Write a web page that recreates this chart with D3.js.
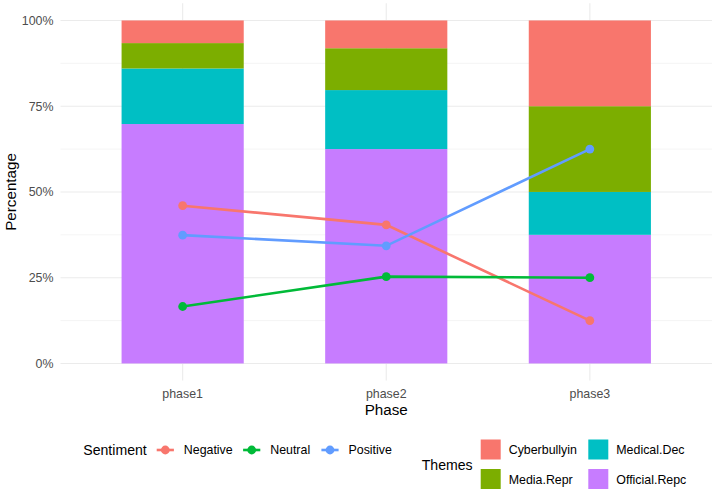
<!DOCTYPE html>
<html>
<head>
<meta charset="utf-8">
<script src="https://cdn.jsdelivr.net/npm/d3@7"></script>
<style>
  body { margin: 0; background: #fff; }
  text { font-family: "Liberation Sans", Arial, sans-serif; }
</style>
</head>
<body>
<svg id="chart" width="715" height="492"></svg>
<script>
// categories
var phases = ["phase1", "phase2", "phase3"];
var themes = ["Cyberbullyin", "Media.Repr", "Medical.Dec", "Official.Repc"];
var sentiments = ["Negative", "Neutral", "Positive"];

// theme shares per phase (percent), stacked bottom = Official.Repc
var cyberShare = [6.6, 8.1, 25.0];
var mediaShare = [7.4, 12.2, 25.0];
var medicalShare = [16.2, 17.2, 12.5];
var officialShare = [69.8, 62.5, 37.5];

// sentiment shares per phase (percent)
var negativeShare = [46.0, 40.4, 12.5];
var neutralShare = [16.6, 25.3, 25.0];
var positiveShare = [37.4, 34.3, 62.5];

var yTicks = [0, 0.25, 0.5, 0.75, 1];
var yMinor = [0.125, 0.375, 0.625, 0.875];

var themeColors = ["#F8766D", "#7CAE00", "#00BFC4", "#C77CFF"];
var sentColors = ["#F8766D", "#00BA38", "#619CFF"];

var svg = d3.select("#chart");

// panel geometry
var panel = { left: 60.5, right: 712, top: 3.3, bottom: 380.6 };

var x = d3.scalePoint().domain(phases).range([panel.left, panel.right]).padding(0.6);
var step = x.step();
var barW = step * 0.6;

var y = d3.scaleLinear().domain([-0.05, 1.05]).range([panel.bottom, panel.top]);

// grid
var grid = svg.append("g");
grid.selectAll(".minor").data(yMinor).enter().append("line")
  .attr("x1", panel.left).attr("x2", panel.right)
  .attr("y1", function (d) { return y(d); }).attr("y2", function (d) { return y(d); })
  .attr("stroke", "#EBEBEB").attr("stroke-width", 0.55);
grid.selectAll(".major").data(yTicks).enter().append("line")
  .attr("x1", panel.left).attr("x2", panel.right)
  .attr("y1", function (d) { return y(d); }).attr("y2", function (d) { return y(d); })
  .attr("stroke", "#EBEBEB").attr("stroke-width", 1.1);
grid.selectAll(".vmajor").data(phases).enter().append("line")
  .attr("x1", function (d) { return x(d); }).attr("x2", function (d) { return x(d); })
  .attr("y1", panel.top).attr("y2", panel.bottom)
  .attr("stroke", "#EBEBEB").attr("stroke-width", 1.1);

// stacked bars
var rows = phases.map(function (p, i) {
  return {
    phase: p,
    "Cyberbullyin": cyberShare[i] / 100,
    "Media.Repr": mediaShare[i] / 100,
    "Medical.Dec": medicalShare[i] / 100,
    "Official.Repc": officialShare[i] / 100
  };
});
// stack with Official at the bottom
var stackKeys = themes.slice().reverse();
var stacked = d3.stack().keys(stackKeys)(rows);

svg.append("g").selectAll("g").data(stacked).enter().append("g")
  .attr("fill", function (d) { return themeColors[themes.indexOf(d.key)]; })
  .selectAll("rect").data(function (d) { return d; }).enter().append("rect")
  .attr("x", function (d) { return x(d.data.phase) - barW / 2; })
  .attr("width", barW)
  .attr("y", function (d) { return y(d[1]); })
  .attr("height", function (d) { return y(d[0]) - y(d[1]); });

// sentiment lines
var sentData = [negativeShare, neutralShare, positiveShare];
var line = d3.line()
  .x(function (d, i) { return x(phases[i]); })
  .y(function (d) { return y(d / 100); });

var lg = svg.append("g");
sentData.forEach(function (vals, k) {
  lg.append("path").attr("d", line(vals))
    .attr("fill", "none").attr("stroke", sentColors[k]).attr("stroke-width", 2.6);
});
sentData.forEach(function (vals, k) {
  lg.selectAll(null).data(vals).enter().append("circle")
    .attr("cx", function (d, i) { return x(phases[i]); })
    .attr("cy", function (d) { return y(d / 100); })
    .attr("r", 4.4)
    .attr("fill", sentColors[k]);
});

// axes labels
svg.append("g").selectAll("text").data(yTicks).enter().append("text")
  .attr("x", 53.5).attr("y", function (d) { return y(d); })
  .attr("dy", "0.35em").attr("text-anchor", "end")
  .attr("font-size", 12.4).attr("fill", "#4D4D4D")
  .text(d3.format(".0%"));

svg.append("g").selectAll("text").data(phases).enter().append("text")
  .attr("x", function (d) { return x(d); }).attr("y", 393.3)
  .attr("dy", "0.35em").attr("text-anchor", "middle")
  .attr("font-size", 12.4).attr("fill", "#4D4D4D")
  .text(function (d) { return d; });

svg.append("text")
  .attr("x", (panel.left + panel.right) / 2).attr("y", 409.3)
  .attr("dy", "0.35em").attr("text-anchor", "middle")
  .attr("font-size", 15.2).attr("fill", "#000")
  .text("Phase");

svg.append("text")
  .attr("transform", "translate(11," + y(0.5) + ") rotate(-90)")
  .attr("dy", "0.35em").attr("text-anchor", "middle")
  .attr("font-size", 15.2).attr("fill", "#000")
  .text("Percentage");

// legend: Sentiment
var leg1 = svg.append("g");
leg1.append("text").attr("x", 83.3).attr("y", 450).attr("dy", "0.35em")
  .attr("font-size", 14.1).text("Sentiment");
var sentKeyX = [165.3, 251.7, 330];
sentiments.forEach(function (s, k) {
  var g = leg1.append("g").attr("transform", "translate(" + sentKeyX[k] + ",450)");
  g.append("line").attr("x1", -8.6).attr("x2", 8.6).attr("stroke", sentColors[k]).attr("stroke-width", 2.6);
  g.append("circle").attr("r", 4.4).attr("fill", sentColors[k]);
  g.append("text").attr("x", 18.5).attr("dy", "0.35em").attr("font-size", 12.4)
    .attr("fill", "#000").text(s);
});

// legend: Themes (2x2, by column)
var leg2 = svg.append("g");
leg2.append("text").attr("x", 421.7).attr("y", 465).attr("dy", "0.35em")
  .attr("font-size", 14.1).text("Themes");
var colX = [480.7, 588.3];
var rowY = [439.5, 469];
themes.forEach(function (t, k) {
  var col = Math.floor(k / 2), row = k % 2;
  leg2.append("rect").attr("x", colX[col]).attr("y", rowY[row])
    .attr("width", 20).attr("height", 20).attr("fill", themeColors[k]);
  leg2.append("text").attr("x", colX[col] + 28).attr("y", rowY[row] + 10.5)
    .attr("dy", "0.35em").attr("font-size", 12.4).attr("fill", "#000").text(t);
});
</script>
</body>
</html>
